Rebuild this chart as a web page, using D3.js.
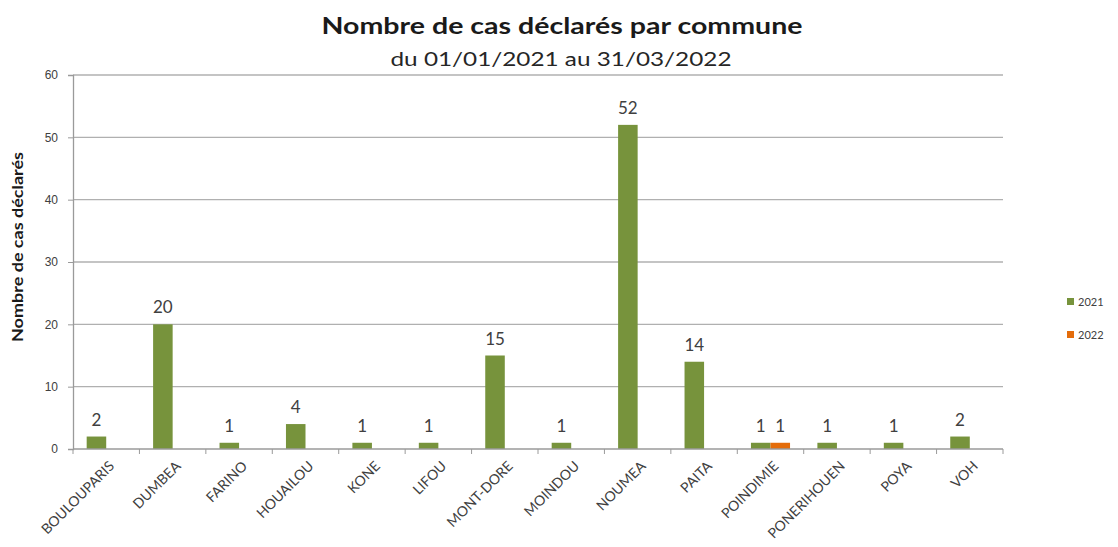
<!DOCTYPE html>
<html><head><meta charset="utf-8">
<script src="https://cdn.jsdelivr.net/npm/d3@7"></script>
<style>body{margin:0;background:#fff;}svg{display:block;font-family:Lato,"Open Sans",sans-serif;}</style>
</head><body>
<svg id="c" width="1118" height="547"></svg>
<script>
const categories = ["BOULOUPARIS","DUMBEA","FARINO","HOUAILOU","KONE","LIFOU","MONT-DORE","MOINDOU","NOUMEA","PAITA","POINDIMIE","PONERIHOUEN","POYA","VOH"];
const series2021 = [2,20,1,4,1,1,15,1,52,14,1,1,1,2];
const series2022 = [0,0,0,0,0,0,0,0,0,0,1,0,0,0];
const seriesNames = ["2021","2022"];
const yTicks = [0,10,20,30,40,50,60];
const title = "Nombre de cas déclarés par commune";
const subtitle = "du 01/01/2021 au 31/03/2022";
const yTitle = "Nombre de cas déclarés";
const colors = ["#77933C","#E46C0A"];

const svg = d3.select("#c");
const m = {l:73, r:1003, t:75, b:449};
const x = d3.scaleBand().domain(categories).range([m.l, m.r]).paddingInner(0).paddingOuter(0);
const y = d3.scaleLinear().domain([0,60]).range([m.b, m.t]);
const x1 = d3.scaleBand().domain(seriesNames).range([0, x.bandwidth()]).paddingOuter(0.7).paddingInner(0);

// gridlines
svg.append("g").selectAll("line").data(yTicks.filter(d=>d>0)).join("line")
  .attr("x1", m.l).attr("x2", m.r).attr("y1", d=>y(d)).attr("y2", d=>y(d))
  .attr("stroke","#b0b0b0").attr("stroke-width",1.3);

// y axis
const ya = svg.append("g").attr("transform",`translate(${m.l},0)`)
  .call(d3.axisLeft(y).tickValues(yTicks).tickSize(5).tickPadding(10));
ya.select(".domain").attr("stroke","#9a9a9a").attr("stroke-width",1.3);
ya.selectAll(".tick line").attr("stroke","#9a9a9a");
ya.selectAll("text").attr("fill","#404040").attr("font-size",12);

// bars
const data = categories.map((c,i)=>({c, vals:[series2021[i], series2022[i]]}));
const g = svg.append("g");
data.forEach(d=>{
  d.vals.forEach((v,j)=>{
    if(v<=0) return;
    const bx = x(d.c)+x1(seriesNames[j]);
    g.append("rect").attr("x",bx).attr("width",x1.bandwidth())
      .attr("y",y(v)).attr("height",y(0)-y(v)).attr("fill",colors[j]);
    g.append("text").attr("x",bx+x1.bandwidth()/2).attr("y",y(v)-11)
      .attr("text-anchor","middle").attr("font-size",17).attr("fill","#404040").text(v);
  });
});

// x axis
const xa = svg.append("g").attr("transform",`translate(0,${m.b})`);
xa.append("line").attr("x1",m.l).attr("x2",m.r).attr("stroke","#9a9a9a").attr("stroke-width",1.3);
const bounds = categories.map(c=>x(c)).concat([m.r]);
xa.selectAll("line.tk").data(bounds).join("line").attr("class","tk")
  .attr("x1",d=>d).attr("x2",d=>d).attr("y1",0).attr("y2",5).attr("stroke","#9a9a9a");
xa.selectAll("text").data(categories).join("text")
  .attr("transform",d=>`translate(${x(d)+x.bandwidth()/2+9},${18}) rotate(-45)`)
  .attr("text-anchor","end").attr("font-size",14).attr("fill","#404040").text(d=>d);

// titles
svg.append("text").attr("x",562).attr("y",34).attr("text-anchor","middle")
  .attr("font-size",23).attr("font-weight","bold").attr("fill","#1a1a1a")
  .attr("textLength",481).attr("lengthAdjust","spacingAndGlyphs").text(title);
svg.append("text").attr("x",561).attr("y",66).attr("text-anchor","middle")
  .attr("font-size",18.5).attr("fill","#262626")
  .attr("textLength",341).attr("lengthAdjust","spacingAndGlyphs").text(subtitle);
svg.append("text").attr("transform","translate(23,247) rotate(-90)").attr("text-anchor","middle")
  .attr("font-size",14.5).attr("font-weight","bold").attr("fill","#1a1a1a")
  .attr("textLength",190).attr("lengthAdjust","spacingAndGlyphs").text(yTitle);

// legend
const lg = svg.append("g").attr("transform","translate(1067,298)");
seriesNames.forEach((s,i)=>{
  lg.append("rect").attr("x",0).attr("y",i*33).attr("width",7).attr("height",7).attr("fill",colors[i]);
  lg.append("text").attr("x",11).attr("y",i*33+7.5).attr("font-size",11).attr("fill","#404040").text(s);
});
</script>
</body></html>
